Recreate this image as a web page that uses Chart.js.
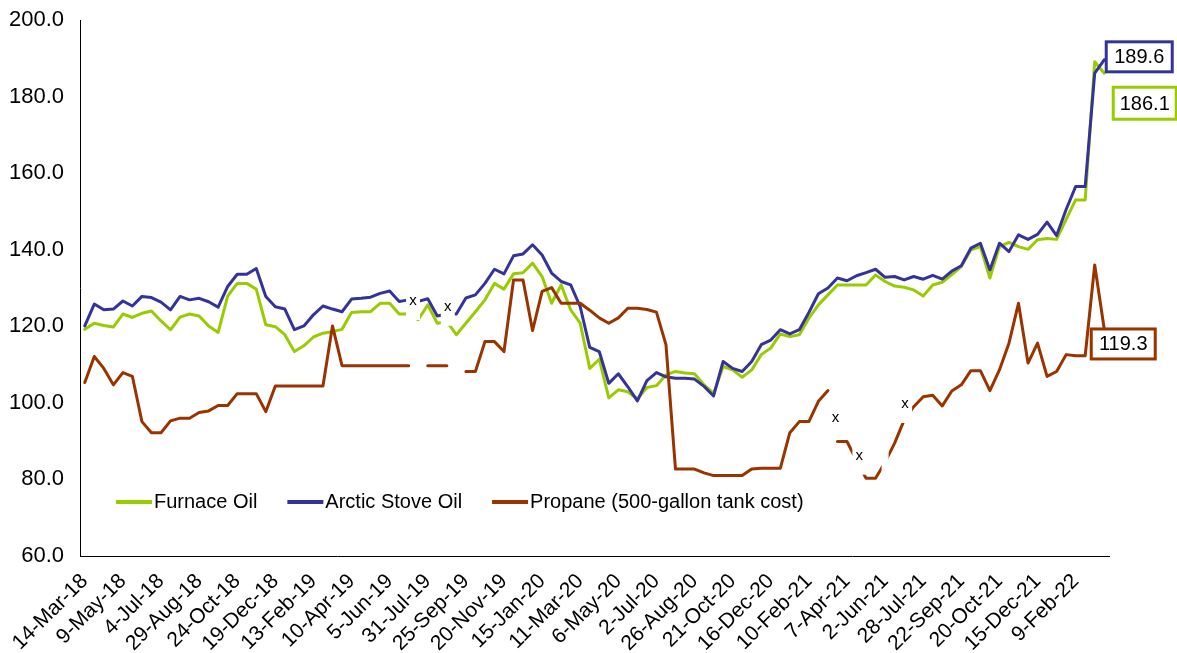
<!DOCTYPE html>
<html>
<head>
<meta charset="utf-8">
<script src="https://cdn.jsdelivr.net/npm/chart.js@4.4.1/dist/chart.umd.min.js"></script>
<style>
  html, body { margin: 0; padding: 0; background: #fff; }
  #wrap { width: 1177px; height: 653px; }
</style>
</head>
<body>
<div id="wrap"><canvas id="myChart"></canvas></div>
<script>
// labels shown on the axis (every 4th point)
const tickLabels = ['14-Mar-18', '9-May-18', '4-Jul-18', '29-Aug-18', '24-Oct-18', '19-Dec-18',
    '13-Feb-19', '10-Apr-19', '5-Jun-19', '31-Jul-19', '25-Sep-19', '20-Nov-19', '15-Jan-20',
    '11-Mar-20', '6-May-20', '2-Jul-20', '26-Aug-20', '21-Oct-20', '16-Dec-20', '10-Feb-21',
    '7-Apr-21', '2-Jun-21', '28-Jul-21', '22-Sep-21', '20-Oct-21', '15-Dec-21', '9-Feb-22'];
const labelEvery = 4;

const furnaceOil = [
    119.2, 120.8, 120.2, 119.8, 123.2, 122.3, 123.4, 124.0, 121.4, 119.1,
    122.4, 123.2, 122.7, 120.1, 118.4, 127.9, 131.2, 131.2, 129.7, 120.4,
    119.9, 117.8, 113.4, 114.9, 117.2, 118.2, 118.6, 119.2, 123.6, 123.8,
    123.8, 126.0, 126.0, 123.2, 123.2, 121.7, 125.6, 120.8, 121.2, 117.8,
    120.8, 123.8, 126.9, 131.2, 129.7, 133.7, 134.0, 136.5, 133.0, 126.0,
    130.8, 124.3, 120.8, 109.0, 111.4, 101.3, 103.4, 102.9, 101.0, 104.0,
    104.5, 107.3, 108.2, 107.8, 107.6, 104.7, 102.5, 109.5, 108.6, 106.7,
    108.6, 112.6, 114.3, 118.0, 117.3, 117.8, 122.1, 125.6, 128.2, 130.8,
    130.8, 130.8, 130.8, 133.4, 131.7, 130.5, 130.2, 129.5, 127.9, 130.8,
    131.5, 133.5, 135.6, 140.0, 140.8, 132.6, 140.8, 141.9, 140.8, 140.1,
    142.6, 142.9, 142.7, 147.9, 153.0, 153.0, 189.1, 186.1
];
const arcticStoveOil = [
    120.1, 125.8, 124.3, 124.5, 126.6, 125.3, 127.8, 127.5, 126.3, 124.3,
    127.8, 126.9, 127.3, 126.4, 125.0, 130.4, 133.6, 133.6, 135.1, 127.8,
    125.1, 124.5, 119.1, 120.1, 123.0, 125.3, 124.5, 123.8, 127.1, 127.3,
    127.6, 128.6, 129.2, 126.5, 126.9, 126.5, 127.2, 122.7, 123.2, 123.2,
    127.4, 128.2, 131.2, 134.9, 133.7, 138.4, 138.9, 141.3, 138.6, 133.9,
    131.7, 130.8, 125.1, 114.5, 113.4, 105.1, 107.6, 104.2, 100.5, 105.8,
    107.9, 106.8, 106.4, 106.4, 106.2, 104.3, 101.8, 110.8, 109.0, 108.2,
    110.8, 115.2, 116.4, 119.1, 118.0, 119.1, 123.6, 128.5, 130.0, 132.6,
    131.9, 133.2, 134.0, 134.9, 132.8, 133.0, 132.1, 133.0, 132.3, 133.3,
    132.3, 134.4, 135.8, 140.4, 141.7, 134.7, 141.7, 139.5, 143.9, 142.7,
    144.0, 147.2, 143.7, 150.5, 156.5, 156.5, 186.1, 189.6
];
const propane = [
    105.3, 112.1, 109.0, 104.7, 107.9, 106.9, 95.1, 92.2, 92.2, 95.3,
    96.0, 96.0, 97.5, 97.9, 99.3, 99.3, 102.4, 102.4, 102.4, 97.7,
    104.4, 104.4, 104.4, 104.4, 104.4, 104.4, 120.1, 109.7, 109.7, 109.7,
    109.7, 109.7, 109.7, 109.7, 109.7, null, 109.7, 109.7, 109.7, null,
    108.2, 108.2, 116.0, 116.0, 113.4, 132.1, 132.1, 118.9, 129.1, 130.1,
    126.0, 126.0, 126.0, 124.2, 122.2, 120.8, 122.2, 124.7, 124.7, 124.4,
    123.7, 115.2, 82.7, 82.7, 82.7, 81.7, 81.0, 81.0, 81.0, 81.0,
    82.7, 82.9, 82.9, 82.9, 92.2, 95.1, 95.1, 100.4, 103.2, 89.9,
    89.9, 85.0, 80.3, 80.3, 84.5, 89.5, 95.5, 99.0, 101.6, 102.0,
    99.2, 103.1, 104.7, 108.4, 108.4, 103.2, 108.6, 115.6, 126.0, 110.4,
    115.6, 106.9, 108.2, 112.6, 112.3, 112.3, 136.0, 119.3
];

// notes laid over the lines: [category position, value, text]
const xNotes = [[34.45, 126.6, 'x'], [38.1, 125.1, 'x'], [78.8, 96.2, 'x'],
    [81.3, 86.2, 'x'], [84.0, 85.6, ''], [86.1, 99.7, 'x']];
// segments (by start index) with no line in the original
const hiddenPropane = [78];

const categories = furnaceOil.map((v, i) => i % labelEvery === 0 ? tickLabels[i / labelEvery] : '');

const GREEN = '#99CC00';
const BLUE = '#333399';
const BROWN = '#993300';
const FONT = "'Liberation Sans', Arial, sans-serif";

function hideSeg(list) {
    return ctx => list.includes(ctx.p0DataIndex) ? 'rgba(0,0,0,0)' : undefined;
}

// boxes with the last value, offsets from the last point
const lastBoxes = [
    { dx: 9, dy: 30, w: 63, h: 32 },
    { dx: 2, dy: -3, w: 66, h: 30 },
    { dx: -13, dy: 15, w: 64, h: 30 }
];

const extrasPlugin = {
    id: 'extras',
    afterDatasetsDraw(chart) {
        const c = chart.ctx;
        const xs = chart.scales.x, ys = chart.scales.y;

        // notes: white text boxes laid over the lines
        c.save();
        c.font = '15px ' + FONT;
        c.textAlign = 'center';
        c.textBaseline = 'middle';
        xNotes.forEach(([at, val, txt]) => {
            const px = xs.getPixelForValue(at);
            const py = ys.getPixelForValue(val);
            const half = txt ? 7 : 3.5;
            c.fillStyle = '#fff';
            c.fillRect(px - half, py - 9, half * 2, 28);
            c.fillStyle = '#000';
            if (txt) c.fillText(txt, px, py);
        });
        c.restore();

        // last value boxes
        c.save();
        c.font = '20px ' + FONT;
        c.textAlign = 'center';
        c.textBaseline = 'middle';
        chart.data.datasets.forEach((ds, i) => {
            const meta = chart.getDatasetMeta(i);
            const last = meta.data[meta.data.length - 1];
            const b = lastBoxes[i];
            const left = last.x + b.dx;
            const cy = last.y + b.dy;
            c.fillStyle = '#fff';
            c.fillRect(left, cy - b.h / 2, b.w, b.h);
            c.strokeStyle = ds.borderColor;
            c.lineWidth = 3;
            c.strokeRect(left, cy - b.h / 2, b.w, b.h);
            c.fillStyle = '#000';
            c.fillText(ds.data[ds.data.length - 1].toFixed(1), left + b.w / 2, cy + 1);
        });
        c.restore();
    },
    afterDraw(chart) {
        // legend inside the plot, bottom left
        const c = chart.ctx;
        c.save();
        c.font = '20px ' + FONT;
        c.textBaseline = 'middle';
        c.textAlign = 'left';
        let x = chart.chartArea.left + 36;
        const y = chart.chartArea.bottom - 54;
        chart.data.datasets.forEach(ds => {
            c.strokeStyle = ds.borderColor;
            c.lineWidth = 4;
            c.beginPath();
            c.moveTo(x, y);
            c.lineTo(x + 36, y);
            c.stroke();
            c.fillStyle = '#000';
            c.fillText(ds.label, x + 38, y);
            x += 38 + c.measureText(ds.label).width + 30;
        });
        c.restore();
    }
};

const ctx = document.getElementById('myChart').getContext('2d');
const myChart = new Chart(ctx, {
    type: 'line',
    data: {
        labels: categories,
        datasets: [{
            label: 'Furnace Oil',
            data: furnaceOil,
            borderColor: GREEN,
            backgroundColor: GREEN,
            borderWidth: 3,
            order: 2
        }, {
            label: 'Arctic Stove Oil',
            data: arcticStoveOil,
            borderColor: BLUE,
            backgroundColor: BLUE,
            borderWidth: 3,
            order: 1
        }, {
            label: 'Propane (500-gallon tank cost)',
            data: propane,
            borderColor: BROWN,
            backgroundColor: BROWN,
            borderWidth: 3,
            order: 0,
            segment: { borderColor: hideSeg(hiddenPropane) }
        }]
    },
    options: {
        responsive: true,
        maintainAspectRatio: false,
        animation: false,
        spanGaps: false,
        elements: {
            point: { radius: 0, hoverRadius: 0 },
            line: { tension: 0, borderJoinStyle: 'round', borderCapStyle: 'round' }
        },
        layout: { padding: { left: 0, top: 20, right: 68, bottom: 0 } },
        plugins: {
            legend: { display: false },
            tooltip: { enabled: false }
        },
        scales: {
            x: {
                offset: true,
                grid: { display: false, drawTicks: false },
                border: { display: true, color: '#000', width: 1 },
                ticks: {
                    autoSkip: false,
                    minRotation: 45,
                    maxRotation: 45,
                    padding: 13,
                    color: '#000',
                    font: { family: FONT, size: 21 }
                },
                afterFit(scale) { scale.height = 97; }
            },
            y: {
                min: 60,
                max: 200,
                grid: { display: false, drawTicks: false },
                border: { display: true, color: '#000', width: 1 },
                ticks: {
                    stepSize: 20,
                    padding: 16,
                    color: '#000',
                    font: { family: FONT, size: 22 },
                    callback: value => value.toFixed(1)
                },
                afterFit(scale) {
                    scale.width = 80;
                    scale.paddingTop = 0;
                    scale.paddingBottom = 0;
                }
            }
        }
    },
    plugins: [extrasPlugin]
});
</script>
</body>
</html>
